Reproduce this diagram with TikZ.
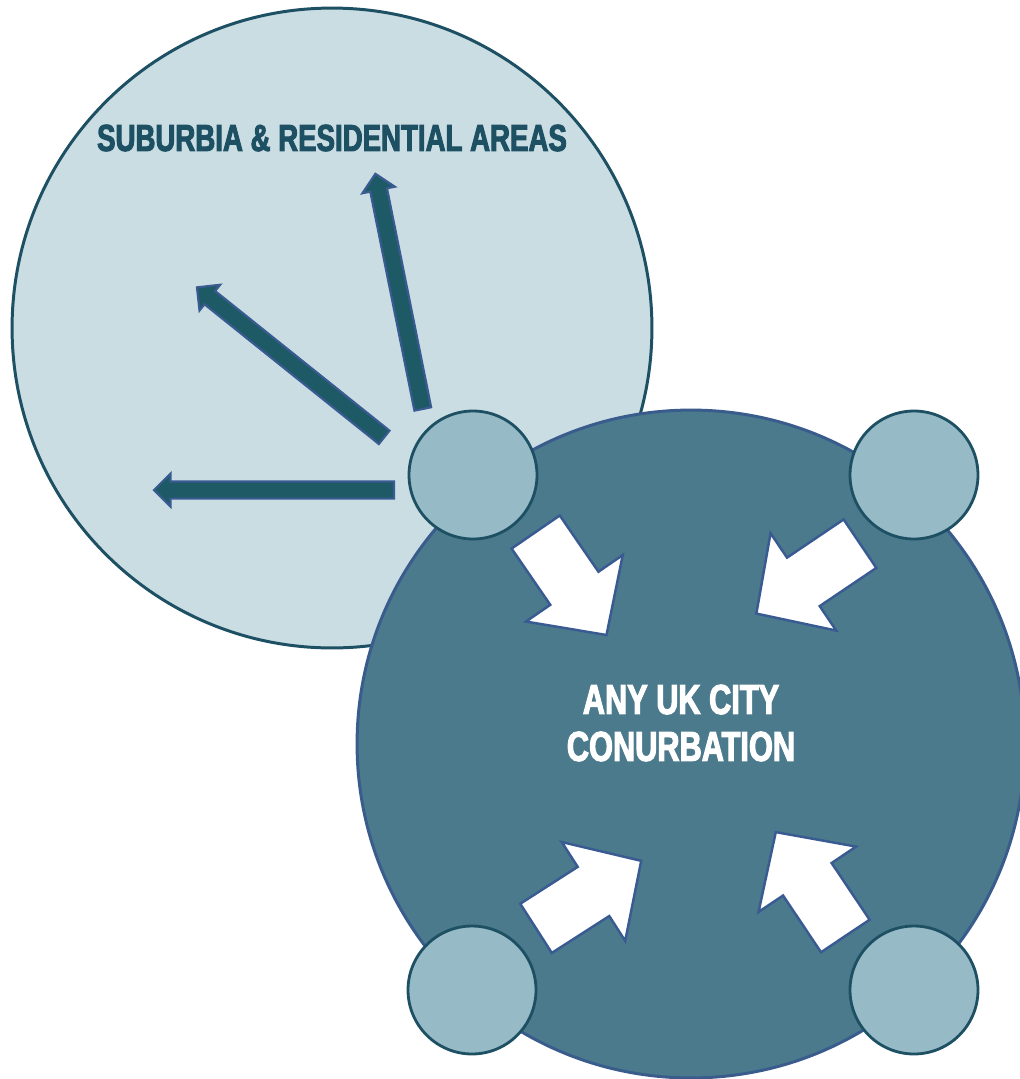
\documentclass[tikz,border=0pt]{standalone}
\usepackage{fontspec}
\newfontfamily\condfont[FakeStretch=0.735,FakeBold=2.6]{Liberation Sans}
\usetikzlibrary{shapes.arrows}
\definecolor{suburbfill}{HTML}{CADDE3}
\definecolor{tealline}{HTML}{1E5064}
\definecolor{cityfill}{HTML}{4A7A8C}
\definecolor{cityline}{HTML}{3A5C8C}
\definecolor{hubfill}{HTML}{96BAC6}
\definecolor{darkarrow}{HTML}{1D5A66}
\definecolor{arrowline}{HTML}{3A5B92}

\begin{document}
\begin{tikzpicture}[x=0.02cm, y=-0.02cm,
  hub/.style = {circle, draw=tealline, line width=1.6pt, fill=hubfill, minimum size=2.56cm, inner sep=0pt},
  outarrow/.style = {single arrow, draw=arrowline, line width=1.2pt, fill=darkarrow, minimum height=4.8cm, inner xsep=0pt, inner ysep=0.15cm, single arrow head extend=0.16cm, anchor=tail},
  inarrow/.style = {single arrow, draw=arrowline, line width=1.4pt, fill=white, minimum height=2.5cm, inner xsep=0pt, inner ysep=0.56cm, single arrow head extend=0.59cm, single arrow tip angle=92, anchor=tail}]
  \useasboundingbox (0,0) rectangle (1020,1079);

  % the two areas
  \node[circle, draw=tealline, line width=1.7pt, fill=suburbfill, minimum size=12.8cm, inner sep=0pt] (suburbs) at (332,328) {};
  \node[circle, draw=cityline, line width=1.7pt, fill=cityfill, minimum size=13.36cm, inner sep=0pt] (city) at (691,744) {};

  % hubs on the edge of the city
  \node[hub] (hubnw) at (473,475) {};
  \node[hub] (hubne) at (914,475) {};
  \node[hub] (hubsw) at (472,990) {};
  \node[hub] (hubse) at (914,990) {};

  % moving out to the suburbs
  \node[outarrow, rotate=101.4] (outup) at (423,410) {};
  \node[outarrow, rotate=141.3] (outmid) at (385,438) {};
  \node[outarrow, rotate=180] (outleft) at (395,490) {};

  % moving into the city
  \node[inarrow, rotate=-55.5] (innw) at (535,531) {};
  \node[inarrow, rotate=-146] (inne) at (861,543) {};
  \node[inarrow, rotate=32.7] (insw) at (535,929) {};
  \node[inarrow, rotate=123.8] (inse) at (846,937) {};

  \node[text=tealline, font=\condfont\bfseries\fontsize{21.4}{24}\selectfont] (suburbtitle) at (332,138) {SUBURBIA \& RESIDENTIAL AREAS};
  \node[text=white, align=center, font=\condfont\bfseries\fontsize{23.8}{26.7}\selectfont] (citytitle) at (681,723) {ANY UK CITY\\CONURBATION};
\end{tikzpicture}
\end{document}
